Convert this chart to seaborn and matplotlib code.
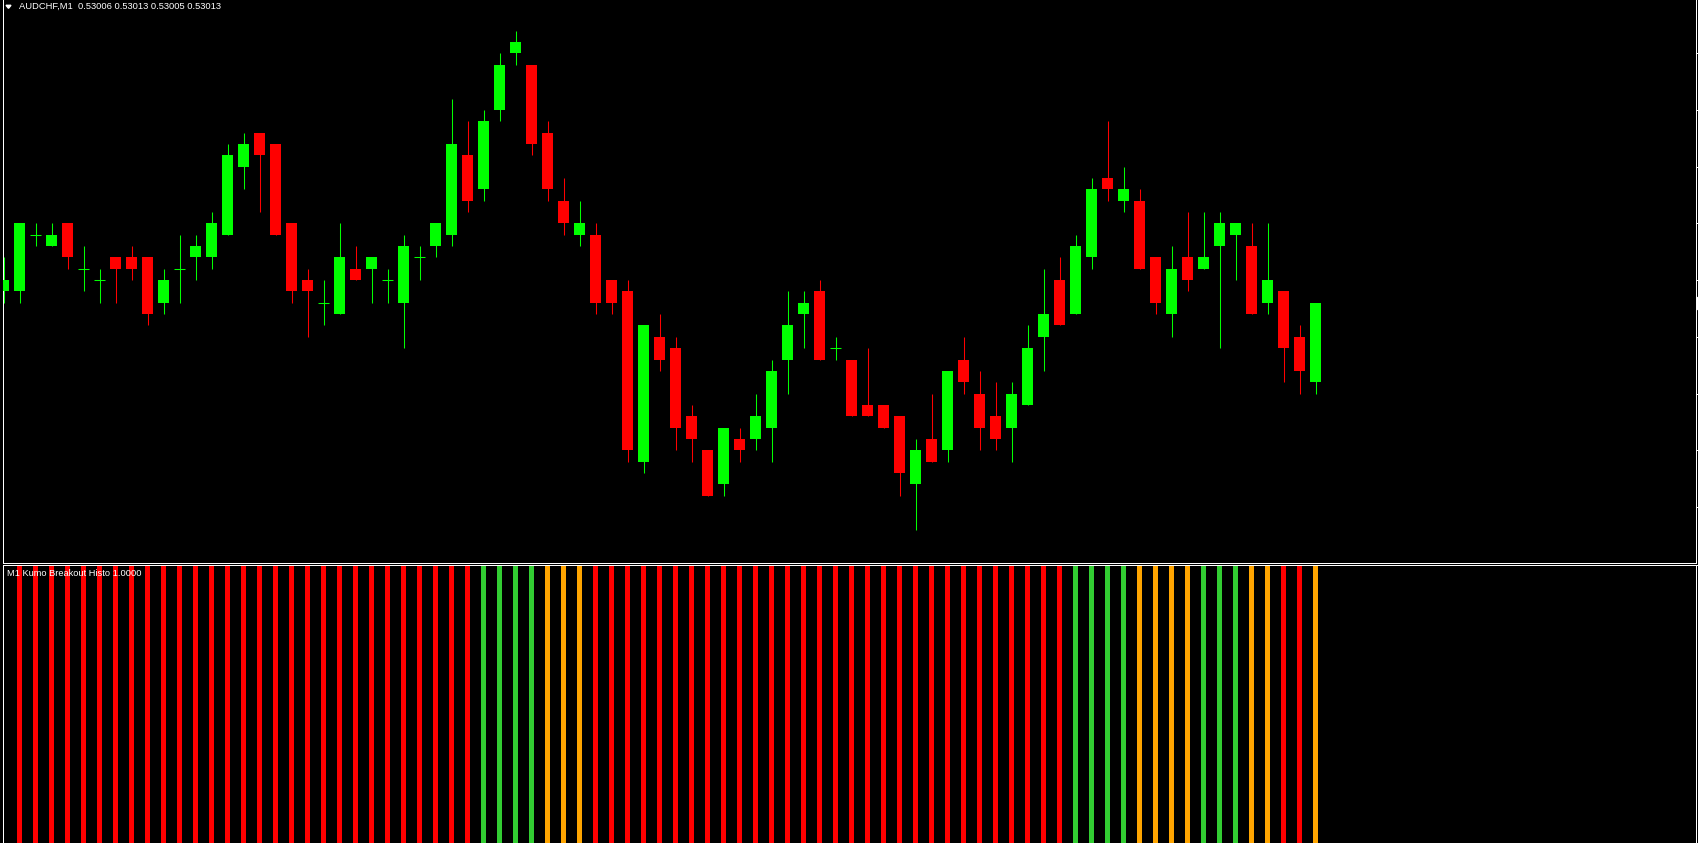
import numpy as np
import pandas as pd
import matplotlib
matplotlib.use("Agg")
import matplotlib.pyplot as plt
from matplotlib.patches import Polygon, Rectangle
from matplotlib.transforms import IdentityTransform
import seaborn as sns

# AUDCHF M1 candles (oldest first)
opens = [0.53014, 0.53014, 0.53019, 0.53018, 0.53020, 0.53016, 0.53015, 0.53017, 0.53017, 0.53017,
         0.53013, 0.53016, 0.53017, 0.53017, 0.53019, 0.53025, 0.53028, 0.53027, 0.53020, 0.53015,
         0.53013, 0.53012, 0.53016, 0.53016, 0.53015, 0.53013, 0.53017, 0.53018, 0.53019, 0.53026,
         0.53023, 0.53030, 0.53035, 0.53034, 0.53028, 0.53022, 0.53019, 0.53019, 0.53015, 0.53014,
         0.52999, 0.53010, 0.53009, 0.53003, 0.53000, 0.52997, 0.53001, 0.53001, 0.53002, 0.53008,
         0.53012, 0.53014, 0.53009, 0.53008, 0.53004, 0.53004, 0.53003, 0.52997, 0.53001, 0.53000,
         0.53008, 0.53005, 0.53003, 0.53002, 0.53004, 0.53010, 0.53015, 0.53012, 0.53017, 0.53024,
         0.53022, 0.53022, 0.53017, 0.53012, 0.53017, 0.53016, 0.53018, 0.53019, 0.53018, 0.53013,
         0.53014, 0.53010, 0.53006]
highs = [0.53017, 0.53020, 0.53020, 0.53020, 0.53020, 0.53018, 0.53016, 0.53017, 0.53018, 0.53017,
         0.53016, 0.53019, 0.53019, 0.53021, 0.53027, 0.53028, 0.53028, 0.53027, 0.53020, 0.53016,
         0.53015, 0.53020, 0.53018, 0.53017, 0.53016, 0.53019, 0.53018, 0.53020, 0.53031, 0.53029,
         0.53030, 0.53035, 0.53037, 0.53034, 0.53029, 0.53024, 0.53022, 0.53020, 0.53015, 0.53015,
         0.53011, 0.53012, 0.53010, 0.53004, 0.53000, 0.53002, 0.53002, 0.53005, 0.53008, 0.53014,
         0.53014, 0.53015, 0.53010, 0.53008, 0.53009, 0.53004, 0.53003, 0.53001, 0.53005, 0.53007,
         0.53010, 0.53007, 0.53006, 0.53006, 0.53011, 0.53016, 0.53017, 0.53019, 0.53024, 0.53029,
         0.53025, 0.53023, 0.53017, 0.53018, 0.53021, 0.53021, 0.53021, 0.53020, 0.53020, 0.53020,
         0.53014, 0.53011, 0.53013]
lows = [0.53013, 0.53013, 0.53018, 0.53018, 0.53016, 0.53014, 0.53013, 0.53013, 0.53015, 0.53011,
        0.53012, 0.53013, 0.53015, 0.53016, 0.53019, 0.53023, 0.53021, 0.53019, 0.53013, 0.53010,
        0.53011, 0.53012, 0.53015, 0.53013, 0.53013, 0.53009, 0.53015, 0.53017, 0.53018, 0.53021,
        0.53022, 0.53029, 0.53034, 0.53026, 0.53022, 0.53019, 0.53018, 0.53012, 0.53012, 0.52999,
        0.52998, 0.53007, 0.53000, 0.52999, 0.52996, 0.52996, 0.52999, 0.53000, 0.52999, 0.53005,
        0.53009, 0.53008, 0.53008, 0.53003, 0.53003, 0.53002, 0.52996, 0.52993, 0.52999, 0.52999,
        0.53005, 0.53000, 0.53000, 0.52999, 0.53004, 0.53007, 0.53011, 0.53012, 0.53016, 0.53022,
        0.53021, 0.53016, 0.53012, 0.53010, 0.53014, 0.53016, 0.53009, 0.53015, 0.53012, 0.53012,
        0.53006, 0.53005, 0.53005]
closes = [0.53015, 0.53020, 0.53019, 0.53019, 0.53017, 0.53016, 0.53015, 0.53016, 0.53016, 0.53012,
          0.53015, 0.53016, 0.53018, 0.53020, 0.53026, 0.53027, 0.53026, 0.53019, 0.53014, 0.53014,
          0.53013, 0.53017, 0.53015, 0.53017, 0.53015, 0.53018, 0.53017, 0.53020, 0.53027, 0.53022,
          0.53029, 0.53034, 0.53036, 0.53027, 0.53023, 0.53020, 0.53020, 0.53013, 0.53013, 0.53000,
          0.53011, 0.53008, 0.53002, 0.53001, 0.52996, 0.53002, 0.53000, 0.53003, 0.53007, 0.53011,
          0.53013, 0.53008, 0.53009, 0.53003, 0.53003, 0.53002, 0.52998, 0.53000, 0.52999, 0.53007,
          0.53006, 0.53002, 0.53001, 0.53005, 0.53009, 0.53012, 0.53011, 0.53018, 0.53023, 0.53023,
          0.53023, 0.53016, 0.53013, 0.53016, 0.53015, 0.53017, 0.53020, 0.53020, 0.53012, 0.53015,
          0.53009, 0.53007, 0.53013]

# Kumo Breakout Histo state per bar, from the second visible bar on
histoBars = list(range(1, 83))
histoState = (["bear"] * 29 + ["bull"] * 4 + ["flat"] * 3 + ["bear"] * 30
              + ["bull"] * 4 + ["flat"] * 4 + ["bull"] * 3 + ["flat"] * 2 + ["bear"] * 2 + ["flat"])
histoValues = [1.0] * len(histoBars)

priceTicks = [0.52995, 0.53000, 0.53005, 0.53010, 0.53015, 0.53020, 0.53025, 0.53030, 0.53035]

bullColor = "#00FF00"
bearColor = "#FF0000"
histoPalette = {"bull": "#32CD32", "bear": "#FF0000", "flat": "#FFA500"}

sns.set_style("dark", {"axes.facecolor": "black", "figure.facecolor": "black",
                       "axes.edgecolor": "white", "axes.grid": False})
plt.rcParams["font.family"] = ["Liberation Sans", "DejaVu Sans"]

W, H = 1698, 843
fig = plt.figure(figsize = (W / 100, H / 100), dpi = 100, facecolor = "black")

def pixelBox(left, top, right, bottom):
    return [left / W, 1 - bottom / H, (right - left) / W, (bottom - top) / H]

axMain = fig.add_axes(pixelBox(2.5, 0, 1695.5, 562.5))
axHisto = fig.add_axes(pixelBox(2.5, 564.5, 1695.5, 843))
xLimits = (-0.0625, 105.75)

# Candles
x = np.arange(len(opens))
o, h, l, c = np.array(opens), np.array(highs), np.array(lows), np.array(closes)
colors = np.where(c >= o, bullColor, bearColor)
body = np.abs(c - o)
doji = body < 1e-9
axMain.vlines(x, l, h, colors = colors, linewidth = 0.75, zorder = 2)
axMain.bar(x[~doji], body[~doji], bottom = np.minimum(o, c)[~doji], width = 0.6875,
           color = colors[~doji], linewidth = 0, zorder = 3)
axMain.hlines(c[doji], x[doji] - 0.34, x[doji] + 0.34, colors = colors[doji], linewidth = 0.75, zorder = 3)

axMain.set_xlim(*xLimits)
axMain.set_ylim(0.529901, 0.530397)
axMain.set_xticks([])
axMain.yaxis.tick_right()
axMain.set_yticks(priceTicks)
axMain.tick_params(axis = "y", direction = "out", length = 1.8, width = 0.72, colors = "white",
                   labelright = False, labelleft = False, right = True, left = False)
for side, spine in axMain.spines.items():
    spine.set_visible(side != "top")
    spine.set_color("white")
    spine.set_linewidth(0.72)

# Histogram
histo = pd.DataFrame({"bar": histoBars, "value": histoValues, "state": histoState})
sns.barplot(data = histo, x = "bar", y = "value", hue = "state", palette = histoPalette,
            native_scale = True, dodge = False, width = 5.4 / 16, legend = False,
            saturation = 1, linewidth = 0, ax = axHisto)
axHisto.set_xlim(*xLimits)
axHisto.set_ylim(0, 1)
axHisto.set_xlabel("")
axHisto.set_ylabel("")
axHisto.set_xticks([])
axHisto.yaxis.tick_right()
axHisto.set_yticks([1.0])
axHisto.tick_params(axis = "y", direction = "out", length = 1.8, width = 0.72, colors = "white",
                    labelright = False, labelleft = False, right = True, left = False)
for side, spine in axHisto.spines.items():
    spine.set_visible(side != "bottom")
    spine.set_color("white")
    spine.set_linewidth(0.72)

# Header texts
fig.text(19 / W, 1 - 6.7 / H, "AUDCHF,M1  0.53006 0.53013 0.53005 0.53013",
         color = "white", fontsize = 6.75, ha = "left", va = "center")
fig.add_artist(Polygon([(6, H - 5.3), (11, H - 5.3), (8.5, H - 8.3)], closed = True,
                       color = "white", transform = IdentityTransform()))
fig.text(7 / W, 1 - 573.5 / H, "M1 Kumo Breakout Histo 1.0000",
         color = "white", fontsize = 6.7, ha = "left", va = "center")

# Current price marker on the price scale
fig.add_artist(Rectangle((1696.5, H - 309), 1.5, 12, color = "white", transform = IdentityTransform()))

fig.savefig("out.png", dpi = 100, facecolor = "black")
plt.close()
